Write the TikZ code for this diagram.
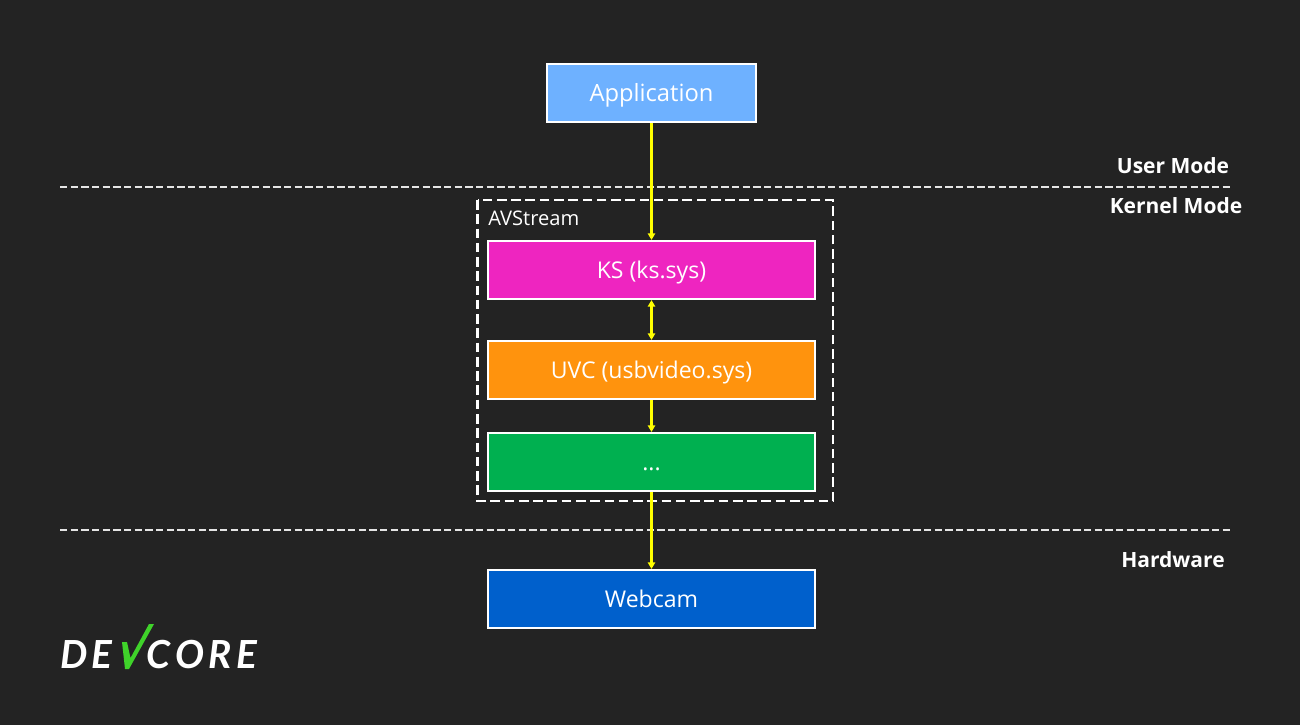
\documentclass[tikz,border=0pt]{standalone}
\usepackage{fontspec}
\setmainfont{Open Sans}
\newfontfamily\logofont{Lato}
\usetikzlibrary{arrows.meta}
\definecolor{bg}{HTML}{232323}
\definecolor{appblue}{HTML}{6EB1FF}
\definecolor{ksmag}{HTML}{EE25C0}
\definecolor{uvcor}{HTML}{FF930D}
\definecolor{dotgreen}{HTML}{00B050}
\definecolor{camblue}{HTML}{0060CC}
\definecolor{arrowy}{HTML}{FFFF00}
\definecolor{logog}{HTML}{3FD32A}
\tikzset{
  x=0.75pt,y=-0.75pt,
  boxnode/.style={draw=white,line width=1.5pt,minimum height=43.5pt,minimum width=245.25pt,inner sep=0pt,text=white,font=\fontsize{17.3pt}{19pt}\selectfont,text height=12.5pt,text depth=0pt},
  appnode/.style={boxnode,minimum width=156.75pt,font=\fontsize{17.8pt}{20pt}\selectfont},
  sep line/.style={draw=white!90!black,line width=1.35pt,dash pattern=on 5.4pt off 2.6pt},
  group box/.style={draw=white,line width=1.6pt,dash pattern=on 7.2pt off 3.5pt},
  flow/.style={draw=arrowy,line width=1.9pt,-{Triangle[length=5pt,width=5.5pt]}},
  flowboth/.style={draw=arrowy,line width=1.9pt,{Triangle[length=5pt,width=5.5pt]}-{Triangle[length=5pt,width=5.5pt]}},
  modelabel/.style={text=white,inner sep=0pt,font=\fontsize{15.75pt}{17pt}\selectfont\bfseries},
  logotext/.style={text=white,inner sep=0pt,anchor=base west,font=\logofont\bfseries\itshape\fontsize{29pt}{30pt}\selectfont}
}
\begin{document}
\begin{tikzpicture}
\useasboundingbox (0,0) rectangle (1300,725);
\fill[bg] (0,0) rectangle (1300,725);
\coordinate (l1a) at (60,187); \coordinate (l1b) at (1230,187);
\coordinate (l2a) at (60,530); \coordinate (l2b) at (1230,530);
\draw[sep line] (l1a) -- (l1b);
\draw[sep line] (l2a) -- (l2b);
\coordinate (ga) at (477.5,200); \coordinate (gb) at (833,501);
\draw[group box] (ga) rectangle (gb);
\node[appnode,fill=appblue] (app) at (651.5,93) {Application};
\node[boxnode,fill=ksmag] (ks) at (651.5,270) {KS (ks.sys)};
\node[boxnode,fill=uvcor] (uvc) at (651.5,370) {UVC (usbvideo.sys)};
\node[boxnode,fill=dotgreen] (dots) at (651.5,462) {...};
\node[boxnode,fill=camblue] (cam) at (651.5,599) {Webcam};
\draw[flow] (app) -- (ks);
\draw[flowboth] (ks) -- (uvc);
\draw[flow] (uvc) -- (dots);
\draw[flow] (dots) -- (cam);
\node[text=white,inner sep=0pt,anchor=base west,font=\fontsize{15.1pt}{16pt}\selectfont] (avs) at (488,225.5) {AVStream};
\node[modelabel] (um) at (1173,165.5) {User Mode};
\node[modelabel] (km) at (1176,205.5) {Kernel Mode};
\node[modelabel] (hw) at (1173,559.5) {Hardware};
\node[logotext] (de) at (60,668) {D\kern3pt E};
\node[logotext] (core) at (146,668) {C\kern3.6pt O\kern3.6pt R\kern3.6pt E};
\fill[logog] (122,642) -- (127,642) -- (130.5,658) -- (149,624) -- (154,624) -- (129,669) -- (125,669) -- cycle;
\end{tikzpicture}
\end{document}
